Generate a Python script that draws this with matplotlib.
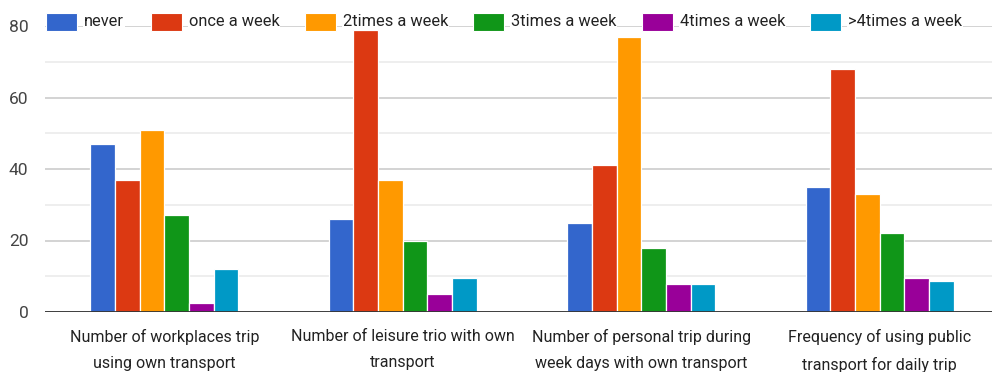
import matplotlib
matplotlib.use("Agg")
import matplotlib.pyplot as plt
import numpy as np
from matplotlib.patches import Rectangle

categories = ["Number of workplaces trip\nusing own transport",
              "Number of leisure trio with own\ntransport",
              "Number of personal trip during\nweek days with own transport",
              "Frequency of using public\ntransport for daily trip"]
series_names = ["never", "once a week", "2times a week", "3times a week", "4times a week", ">4times a week"]
never = [47, 26, 25, 35]
once_a_week = [37, 79, 41, 68]
two_times = [51, 37, 77, 33]
three_times = [27, 20, 18, 22]
four_times = [2.5, 5, 7.7, 9.5]
more_than_four = [12, 9.5, 7.7, 8.7]
series_values = [never, once_a_week, two_times, three_times, four_times, more_than_four]
colors = ["#3366cc", "#dc3912", "#ff9900", "#109618", "#990099", "#0099c6"]
yticks = [0, 20, 40, 60, 80]

plt.rcParams['font.family'] = ['Roboto', 'DejaVu Sans']
W, H = 992, 372
fig = plt.figure(figsize=(W/100, H/100), dpi=100)
ax = fig.add_axes([45/W, (H-312)/H, (W-45)/W, (312-26)/H])

x = np.arange(len(categories))
slot = 0.1035
n = len(series_names)
for i, (vals, c) in enumerate(zip(series_values, colors)):
    ax.bar(x + (i - (n-1)/2)*slot, vals, width=slot, color=c, edgecolor='white', linewidth=0.9, zorder=3)

ax.set_xlim(-0.5, 3.5 - 7/238.5)
ax.set_ylim(0, 80)
ax.set_yticks(yticks)
ax.set_yticks([10, 30, 50, 70], minor=True)
ax.grid(axis='y', which='major', color='#cccccc', linewidth=1.2, zorder=0)
ax.grid(axis='y', which='minor', color='#ebebeb', linewidth=1.2, zorder=0)
ax.axhline(0, color='#333333', linewidth=1.3, zorder=4)
for s in ax.spines.values():
    s.set_visible(False)
ax.tick_params(axis='y', which='both', length=0, pad=12, labelsize=12.5, labelcolor='#444444')
ax.tick_params(axis='x', length=0, pad=12.5, labelsize=11.5, labelcolor='#222222')
ax.set_xticks(x)
ax.set_xticklabels(categories, linespacing=1.88)

# legend drawn manually over the top gridline
box_x = [46, 151, 305, 473, 642, 810]
for bx, name, c in zip(box_x, series_names, colors):
    fig.patches.append(Rectangle((bx/W, (H-31)/H), 31/W, 18/H, transform=fig.transFigure,
                                 facecolor=c, edgecolor='white', linewidth=0.8, zorder=5))
    fig.text((bx+38)/W, (H-22)/H, name, fontsize=11.8, color='#222222', va='center', ha='left',
             bbox=dict(facecolor='white', edgecolor='none', pad=0.5), zorder=5)

fig.savefig("out.png", dpi=100)
